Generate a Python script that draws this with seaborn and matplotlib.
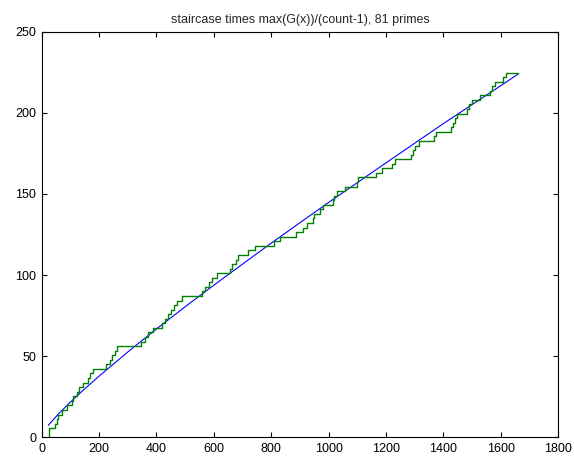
import numpy as np
import pandas as pd
import matplotlib
matplotlib.use("Agg")
import matplotlib.pyplot as plt
import seaborn as sns

# ---- data ----
# x positions where the staircase steps up (81 primes)
step_x = [23, 24, 25, 46, 52, 58, 69, 87, 104, 110, 122, 131, 145, 162, 168, 180,
          224, 238, 246, 255, 263, 346, 360, 372, 387, 418, 428, 440, 450, 462,
          473, 488, 557, 570, 582, 594, 612, 656, 663, 678, 683, 718, 743, 811,
          830, 886, 911, 925, 945, 950, 968, 979, 1014, 1018, 1028, 1057, 1098,
          1103, 1165, 1187, 1222, 1231, 1286, 1293, 1301, 1316, 1367, 1374, 1425,
          1432, 1440, 1446, 1482, 1488, 1500, 1526, 1563, 1568, 1580, 1606, 1618]
x_end = 1661
step_scale = 2.81   # max(G(x))/(count-1)

# smooth curve G(x) read at several x
curve_x = [23, 60, 100, 150, 200, 300, 400, 500, 600, 700, 800, 900, 1000,
           1100, 1200, 1300, 1400, 1500, 1600, 1661]
curve_y = [7.4, 14.7, 21.7, 29.9, 37.7, 52.6, 66.8, 80.5, 93.8, 106.8, 119.7,
           132.3, 144.8, 157.0, 169.2, 181.3, 193.4, 205.1, 216.8, 224.0]

title = "staircase times max(G(x))/(count-1), 81 primes"
xticks = [0, 200, 400, 600, 800, 1000, 1200, 1400, 1600, 1800]
yticks = [0, 50, 100, 150, 200, 250]

# ---- build tables ----
stair_y = [i * step_scale for i in range(len(step_x))]
stairs = pd.DataFrame({"x": step_x + [x_end], "y": stair_y + [stair_y[-1]]})
curve = pd.DataFrame({"x": curve_x, "y": curve_y})

sns.set_theme(style="white")
plt.rcParams["font.family"] = ["Liberation Sans", "DejaVu Sans"]

fig = plt.figure(figsize=(5.74, 4.61), dpi=100)
ax = fig.add_axes([41.7 / 574, 1 - 437.3 / 461, (558.3 - 41.7) / 574, (437.3 - 31.7) / 461])

sns.lineplot(data=curve, x="x", y="y", ax=ax, color=(0, 0, 1), linewidth=0.8,
             estimator=None, sort=False)
sns.lineplot(data=stairs, x="x", y="y", ax=ax, color=(0, 0.5, 0), linewidth=1.0,
             estimator=None, sort=False, drawstyle="steps-post")

ax.set_xlim(0, 1800)
ax.set_ylim(0, 250)
ax.set_xticks(xticks)
ax.set_yticks(yticks)
ax.set_xticklabels([str(v) for v in xticks])
ax.set_yticklabels([str(v) for v in yticks])
ax.set_xlabel("")
ax.set_ylabel("")
ax.set_title(title, fontsize=9, pad=6)
ax.tick_params(direction="in", length=3.5, width=0.8, colors="black",
               labelsize=9, top=True, right=True, bottom=True, left=True,
               labeltop=False, labelright=False, pad=4)
for s in ax.spines.values():
    s.set_visible(True)
    s.set_color("black")
    s.set_linewidth(0.8)
ax.set_facecolor("white")
fig.patch.set_facecolor("white")

fig.savefig("out.png", dpi=100)
